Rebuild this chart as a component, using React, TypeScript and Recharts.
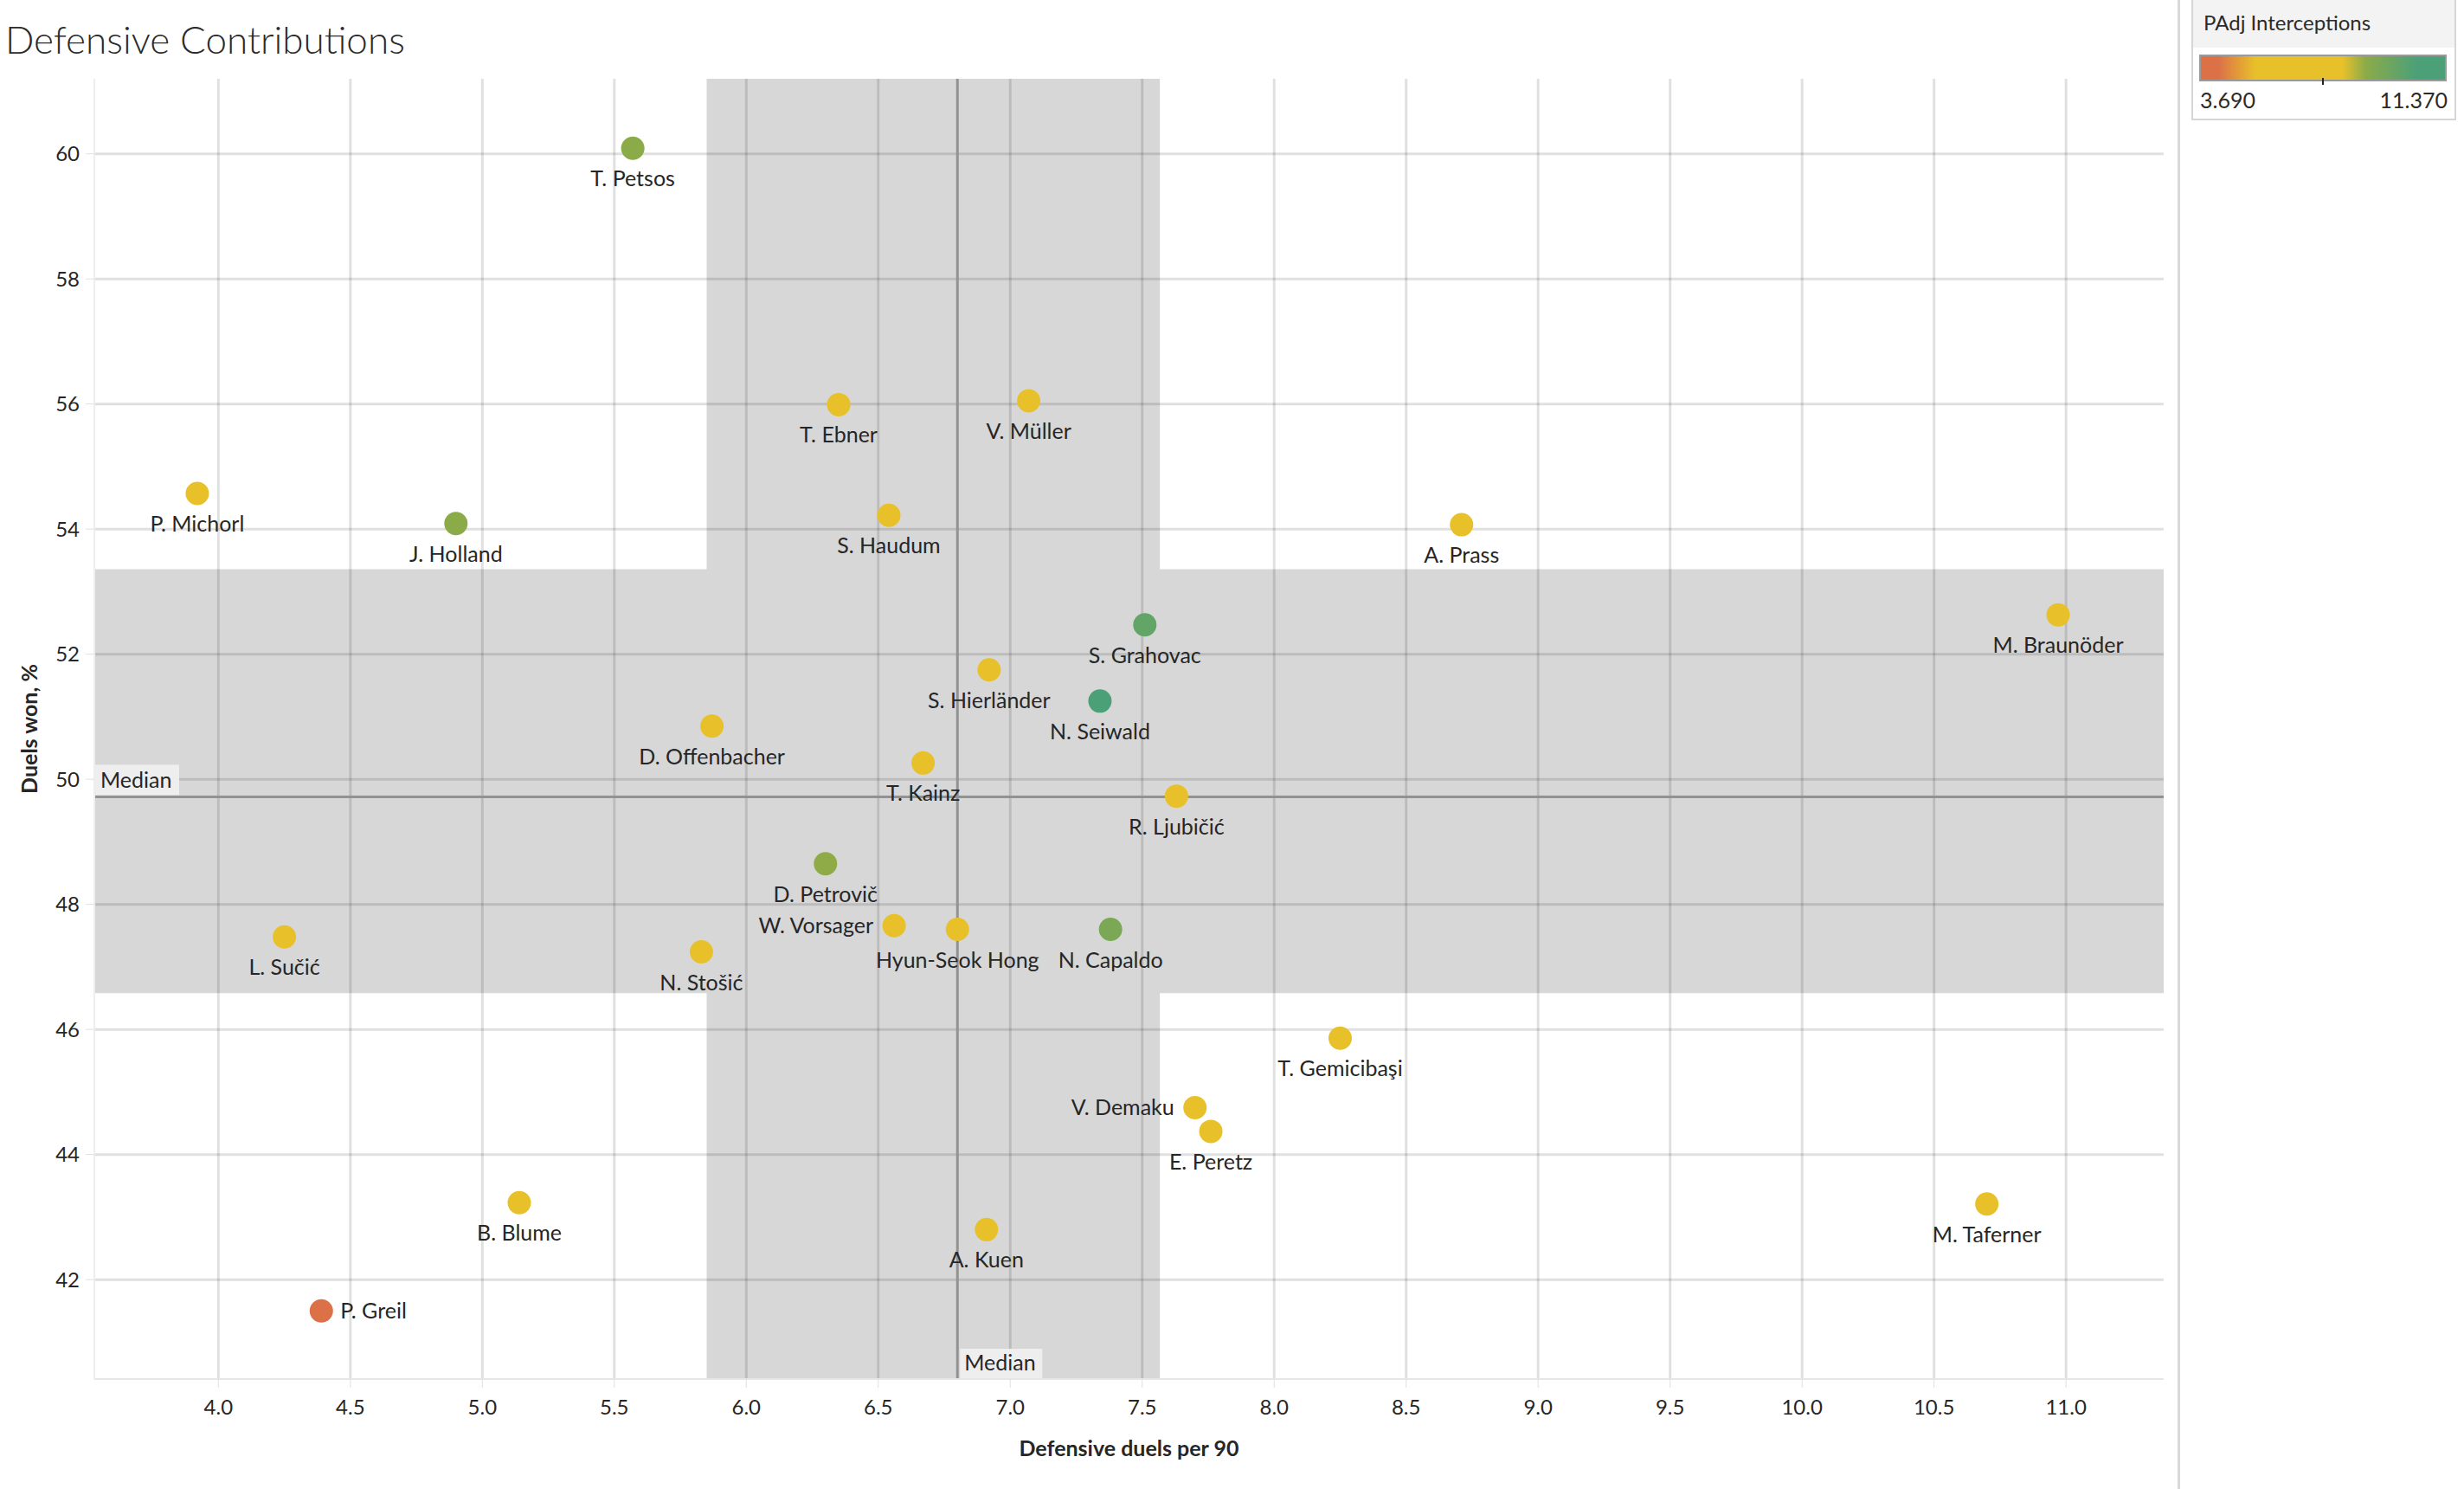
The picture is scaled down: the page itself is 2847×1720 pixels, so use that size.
import React from 'react';
import {
  ScatterChart,
  Scatter,
  XAxis,
  YAxis,
  ReferenceArea,
  ReferenceLine,
  Label
} from 'recharts';

// players
const players = [
  'T. Petsos', 'T. Ebner', 'V. Müller', 'P. Michorl', 'J. Holland', 'S. Haudum', 'A. Prass',
  'S. Grahovac', 'M. Braunöder', 'S. Hierländer', 'N. Seiwald', 'D. Offenbacher', 'T. Kainz',
  'R. Ljubičić', 'D. Petrovič', 'W. Vorsager', 'Hyun-Seok Hong', 'N. Capaldo', 'L. Sučić',
  'N. Stošić', 'T. Gemicibaşi', 'V. Demaku', 'E. Peretz', 'B. Blume', 'A. Kuen', 'M. Taferner',
  'P. Greil'
];
const duelsPer90 = [
  5.57, 6.35, 7.07, 3.92, 4.9, 6.54, 8.71,
  7.51, 10.97, 6.92, 7.34, 5.87, 6.67,
  7.63, 6.3, 6.56, 6.8, 7.38, 4.25,
  5.83, 8.25, 7.7, 7.76, 5.14, 6.91, 10.7,
  4.39
];
const duelsWonPct = [
  60.09, 55.99, 56.05, 54.57, 54.09, 54.22, 54.07,
  52.47, 52.63, 51.75, 51.25, 50.85, 50.26,
  49.73, 48.65, 47.66, 47.6, 47.6, 47.48,
  47.24, 45.86, 44.75, 44.37, 43.23, 42.8, 43.21,
  41.5
];
const interceptions = [
  8.9, 6.4, 7.9, 6.2, 8.9, 6.6, 6.0,
  9.9, 6.8, 7.0, 11.37, 6.3, 5.9,
  7.2, 8.85, 6.5, 7.6, 9.3, 5.5,
  5.6, 6.7, 6.1, 6.9, 6.0, 6.6, 6.8,
  3.69
];

const xTicks = [4, 4.5, 5, 5.5, 6, 6.5, 7, 7.5, 8, 8.5, 9, 9.5, 10, 10.5, 11];
const yTicks = [42, 44, 46, 48, 50, 52, 54, 56, 58, 60];

const medianDuels = 6.8;
const medianWon = 49.72;
const duelsBand = [5.85, 7.567];
const wonBand = [46.58, 53.36];
const interceptionRange = [3.69, 11.37];
const interceptionMarker = 7.5;

// colour ramp of the legend (position 0..1, colour)
const rampStops: [number, string][] = [
  [0, '#dc7148'],
  [0.073, '#dc7148'],
  [0.225, '#e8c12a'],
  [0.58, '#e8c12a'],
  [0.674, '#8cab48'],
  [0.883, '#4ca078'],
  [1, '#4ca078']
];

const labelSide: Record<string, string> = {
  'W. Vorsager': 'left',
  'V. Demaku': 'left',
  'P. Greil': 'right'
};

const FONT = 'Lato, "Open Sans", sans-serif';
const GRID = 'rgba(0,0,0,0.12)';

const hex = (c: string) => [1, 3, 5].map(i => parseInt(c.slice(i, i + 2), 16));

const colorFor = (v: number) => {
  const t = Math.max(0, Math.min(1, (v - interceptionRange[0]) / (interceptionRange[1] - interceptionRange[0])));
  for (let i = 1; i < rampStops.length; i++) {
    const [p1, c1] = rampStops[i];
    const [p0, c0] = rampStops[i - 1];
    if (t <= p1) {
      const f = p1 === p0 ? 0 : (t - p0) / (p1 - p0);
      const a = hex(c0);
      const b = hex(c1);
      const m = a.map((x, k) => Math.round(x + (b[k] - x) * f));
      return `rgb(${m[0]},${m[1]},${m[2]})`;
    }
  }
  return rampStops[rampStops.length - 1][1];
};

const data = players.map((name, i) => ({
  name,
  x: duelsPer90[i],
  y: duelsWonPct[i],
  ip: interceptions[i]
}));

const PlayerDot = (props: any) => {
  const { cx, cy, payload } = props;
  if (cx == null || cy == null) return null;
  const side = labelSide[payload.name] || 'below';
  const common = { fontFamily: FONT, fontSize: 25, fill: '#262626' };
  let label;
  if (side === 'left') {
    label = <text x={cx - 24} y={cy + 9} textAnchor="end" {...common}>{payload.name}</text>;
  } else if (side === 'right') {
    label = <text x={cx + 22} y={cy + 9} textAnchor="start" {...common}>{payload.name}</text>;
  } else {
    label = <text x={cx} y={cy + 44} textAnchor="middle" {...common}>{payload.name}</text>;
  }
  return (
    <g>
      <circle cx={cx} cy={cy} r={13.5} fill={colorFor(payload.ip)} />
      {label}
    </g>
  );
};

const MedianTagY = (props: any) => {
  const vb = props.viewBox || {};
  const x = vb.x ?? 0;
  const y = vb.y ?? 0;
  return (
    <g>
      <rect x={x + 1} y={y - 37} width={97} height={35} fill="#eeeeee" />
      <text x={x + 7} y={y - 10} fontFamily={FONT} fontSize={25} fill="#262626">Median</text>
    </g>
  );
};

const MedianTagX = (props: any) => {
  const vb = props.viewBox || {};
  const x = vb.x ?? 0;
  const bottom = (vb.y ?? 0) + (vb.height ?? 0);
  return (
    <g>
      <rect x={x + 3} y={bottom - 35} width={95} height={35} fill="#eeeeee" />
      <text x={x + 8} y={bottom - 10} fontFamily={FONT} fontSize={25} fill="#262626">Median</text>
    </g>
  );
};

const XTitle = (props: any) => {
  const vb = props.viewBox || {};
  const cx = (vb.x ?? 0) + (vb.width ?? 0) / 2;
  const y = (vb.y ?? 0) + 89;
  return (
    <text x={cx} y={y} textAnchor="middle" fontFamily={FONT} fontWeight={700} fontSize={25} fill="#262626">
      Defensive duels per 90
    </text>
  );
};

const YTitle = (props: any) => {
  const vb = props.viewBox || {};
  const cy = (vb.y ?? 0) + (vb.height ?? 0) / 2;
  const x = 43;
  return (
    <text x={x} y={cy} transform={`rotate(-90 ${x} ${cy})`} textAnchor="middle" fontFamily={FONT} fontWeight={700} fontSize={25} fill="#262626">
      Duels won, %
    </text>
  );
};

const Legend = () => {
  const gradient = `linear-gradient(to right, ${rampStops.map(([p, c]) => `${c} ${p * 100}%`).join(', ')})`;
  const markerPos = (interceptionMarker - interceptionRange[0]) / (interceptionRange[1] - interceptionRange[0]);
  return (
    <div style={{ position: 'absolute', left: 2532, top: -2, width: 302, height: 137, border: '2px solid #d6d6d6', background: '#fff', fontFamily: FONT, color: '#2b2b2b' }}>
      <div style={{ height: 55, background: '#f3f3f3', fontSize: 24, lineHeight: '24px', paddingLeft: 12, paddingTop: 14, boxSizing: 'border-box' }}>
        PAdj Interceptions
      </div>
      <div style={{ position: 'absolute', left: 7, top: 63, width: 282, height: 27, border: '2px solid #9a9a9a', background: gradient }} />
      <div style={{ position: 'absolute', left: 9 + markerPos * 282, top: 90, width: 2, height: 8, background: '#222' }} />
      <div style={{ position: 'absolute', left: 8, top: 100, fontSize: 25 }}>{interceptionRange[0].toFixed(3)}</div>
      <div style={{ position: 'absolute', right: 8, top: 100, fontSize: 25 }}>{interceptionRange[1].toFixed(3)}</div>
    </div>
  );
};

export default function App() {
  return (
    <div style={{ position: 'absolute', left: 0, top: 0, width: 2847, height: 1720, background: '#fff', overflow: 'hidden' }}>
      <div style={{ position: 'absolute', left: 6, top: 19, fontFamily: FONT, fontWeight: 300, fontSize: 44, color: '#2b2b2b', lineHeight: '52px' }}>
        Defensive Contributions
      </div>
      <div style={{ position: 'absolute', left: 2516, top: 0, width: 3, height: 1720, background: '#d9d9d9' }} />
      <Legend />
      <div style={{ position: 'absolute', left: 0, top: 0 }}>
        <ScatterChart width={2847} height={1720} margin={{ top: 91, right: 347, bottom: 0, left: 0 }}>
          <XAxis
            type="number"
            dataKey="x"
            domain={[3.53, 11.37]}
            allowDataOverflow
            ticks={xTicks}
            tickFormatter={(v: number) => v.toFixed(1)}
            height={127}
            tickSize={10}
            tickMargin={14}
            axisLine={{ stroke: '#e6e6e6', strokeWidth: 2 }}
            tickLine={{ stroke: '#e0e0e0' }}
            tick={{ fontFamily: FONT, fontSize: 24, fill: '#262626' }}
          >
            <Label content={<XTitle />} />
          </XAxis>
          <YAxis
            type="number"
            dataKey="y"
            domain={[40.41, 61.2]}
            allowDataOverflow
            ticks={yTicks}
            width={109}
            tickSize={10}
            tickMargin={7}
            axisLine={{ stroke: '#eeeeee', strokeWidth: 2 }}
            tickLine={{ stroke: '#e0e0e0' }}
            tick={{ fontFamily: FONT, fontSize: 24, fill: '#262626' }}
          >
            <Label content={<YTitle />} />
          </YAxis>

          <ReferenceArea x1={duelsBand[0]} x2={duelsBand[1]} fill="#d7d7d7" fillOpacity={1} stroke="none" />
          <ReferenceArea y1={wonBand[0]} y2={wonBand[1]} fill="#d7d7d7" fillOpacity={1} stroke="none" />

          {xTicks.map(v => (
            <ReferenceLine key={`gx${v}`} x={v} stroke={GRID} strokeWidth={3} />
          ))}
          {yTicks.map(v => (
            <ReferenceLine key={`gy${v}`} y={v} stroke={GRID} strokeWidth={3} />
          ))}

          <ReferenceLine x={medianDuels} stroke="#929292" strokeWidth={3} label={<MedianTagX />} />
          <ReferenceLine y={medianWon} stroke="#929292" strokeWidth={3} label={<MedianTagY />} />

          <Scatter data={data} shape={PlayerDot} isAnimationActive={false} />
        </ScatterChart>
      </div>
    </div>
  );
}
